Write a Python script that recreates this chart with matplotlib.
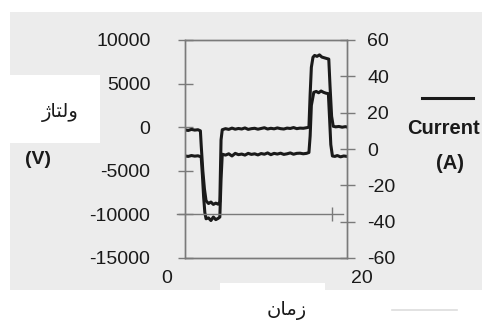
import matplotlib
matplotlib.use("Agg")
import matplotlib.pyplot as plt
import matplotlib.transforms as mtransforms
from matplotlib.patches import Rectangle
from matplotlib.lines import Line2D

# Voltage trace (left axis, V)
t_volt = [0.0, 0.4, 0.8, 1.2, 1.6, 2.0, 2.15, 2.3, 2.45, 2.6, 2.9, 3.2, 3.5, 3.8, 4.1, 4.3,
          4.45, 4.6, 5.0, 5.4, 5.8, 6.2, 6.6, 7.0, 7.4, 7.8, 8.2, 8.6, 9.0, 9.4, 9.8, 10.2,
          10.6, 11.0, 11.4, 11.8, 12.2, 12.6, 13.0, 13.4, 13.8, 14.2, 14.6, 15.0, 15.3, 15.45,
          15.6, 15.9, 16.2, 16.5, 16.8, 17.1, 17.4, 17.7, 17.85, 18.0, 18.2, 18.5, 18.8, 19.2,
          19.6, 20.0]
volt = [-3300, -3350, -3250, -3320, -3280, -3400, -5500, -8000, -9800, -10500, -10400, -10700,
        -10300, -10600, -10450, -10300, -6000, -3100, -3200, -3050, -3300, -3000, -3150, -3080,
        -3200, -3000, -3120, -3050, -3180, -3020, -3100, -2950, -3150, -3000, -3080, -2980,
        -3120, -3050, -2950, -3100, -3000, -2980, -3050, -3000, -2900, -1000, 2500, 4000,
        4100, 3950, 4150, 4000, 3900, 3850, 1000, -2000, -3300, -3350, -3250, -3400, -3300,
        -3350]

# Current trace (right axis, A)
t_curr = [0.0, 0.4, 0.8, 1.2, 1.6, 1.9, 2.0, 2.2, 2.4, 2.6, 2.9, 3.2, 3.5, 3.8, 4.1, 4.3,
          4.45, 4.6, 5.0, 5.4, 5.8, 6.2, 6.6, 7.0, 7.4, 7.8, 8.2, 8.6, 9.0, 9.4, 9.8, 10.2,
          10.6, 11.0, 11.4, 11.8, 12.2, 12.6, 13.0, 13.4, 13.8, 14.2, 14.6, 15.0, 15.3, 15.45,
          15.6, 15.8, 16.0, 16.3, 16.6, 16.9, 17.2, 17.5, 17.75, 17.9, 18.1, 18.3, 18.6, 19.0,
          19.4, 19.8, 20.0]
curr = [10.5, 10.2, 10.8, 10.4, 10.6, 10.0, 2.0, -12.0, -22.0, -28.5, -30.0, -29.2, -30.5,
        -29.8, -30.4, -29.0, 5.0, 10.6, 11.2, 10.8, 11.5, 10.9, 11.3, 11.0, 11.6, 10.8, 11.2,
        11.4, 10.9, 11.3, 11.7, 11.0, 11.4, 11.1, 11.6, 11.2, 11.0, 11.5, 11.3, 11.8, 11.2,
        11.5, 11.4, 11.7, 12.0, 30.0, 45.0, 50.5, 51.5, 51.0, 51.8, 50.6, 50.2, 49.8, 49.5,
        35.0, 18.0, 12.5, 12.2, 12.4, 12.0, 12.3, 12.1]

volt_ticks = [-15000, -10000, -5000, 0, 5000, 10000]
curr_ticks = [-60, -40, -20, 0, 20, 40, 60]
time_ticks = [0, 20]

# reference line and stray mark near the bottom of the box
ref_level = -10000
mark_t = [18.1]
mark_v = [-10000]

W, H, DPI = 482, 323, 100
GRAY = "#ececec"
SPINE = "#7a7a7a"
INK = "#1a1a1a"

# Persian labels in visual (left to right) order with shaped glyphs
VOLT_LABEL = "\u0698\uFE8E\uFE98\uFEDF\u0648"   # ولتاژ
TIME_LABEL = "\u0646\uFE8E\uFEE3\u0632"         # زمان


def fx(px):
    return px / W


def fy(py):
    return 1 - py / H


def draw_background(fig):
    fig.patch.set_facecolor("white")
    fig.add_artist(Rectangle((fx(10), fy(290)), fx(472), 278 / H, transform=fig.transFigure,
                             facecolor=GRAY, edgecolor="none", zorder=-10))
    # white patches pasted over the scan
    fig.add_artist(Rectangle((0, fy(143)), fx(100), 68 / H, transform=fig.transFigure,
                             facecolor="white", edgecolor="none", zorder=-9))
    fig.add_artist(Rectangle((fx(220), 0), fx(105), 40 / H, transform=fig.transFigure,
                             facecolor="white", edgecolor="none", zorder=-9))
    fig.add_artist(Line2D([fx(392), fx(457)], [fy(310), fy(310)], transform=fig.transFigure,
                          color="#dddddd", lw=1.2, zorder=-9))


def main():
    plt.rcParams["font.family"] = ["Liberation Sans", "DejaVu Sans"]
    plt.rcParams["axes.unicode_minus"] = False
    fig = plt.figure(figsize=(W / DPI, H / DPI), dpi=DPI)
    draw_background(fig)

    ax = fig.add_axes([fx(185), fy(258), fx(162), 218 / H])
    ax.patch.set_visible(False)
    ax2 = ax.twinx()

    ax.plot(t_volt, volt, color=INK, lw=2.2, solid_joinstyle="round")
    ax2.plot(t_curr, curr, color=INK, lw=2.2, solid_joinstyle="round")

    ax.axhline(ref_level, xmin=-0.05, xmax=0.975, color=SPINE, lw=1.0, clip_on=False)
    ax.plot(mark_t, mark_v, ls="none", marker="|", ms=10, mew=1.0, color=SPINE)

    ax.set_xlim(0, 20)
    ax.set_ylim(-15000, 10000)
    ax2.set_ylim(-60, 60)
    ax.set_xticks(time_ticks)
    ax.set_yticks(volt_ticks)
    ax2.set_yticks(curr_ticks)

    for a in (ax, ax2):
        for sp in a.spines.values():
            sp.set_color(SPINE)
            sp.set_linewidth(1.0)

    ax.tick_params(axis="y", direction="inout", length=10.8, width=1.0, color=SPINE,
                   labelsize=14, labelcolor=INK, pad=19.5)
    ax2.tick_params(axis="y", direction="inout", length=10.8, width=1.0, color=SPINE,
                    labelsize=14, labelcolor=INK, pad=9)
    ax.tick_params(axis="x", length=0, labelsize=14, labelcolor=INK, pad=8.5)

    # x tick labels sit off the box corners
    offsets = [-18, 15]
    for lab, dx in zip(ax.get_xticklabels(), offsets):
        lab.set_transform(lab.get_transform()
                          + mtransforms.ScaledTranslation(dx / DPI, 0, fig.dpi_scale_trans))

    # axis titles and the little legend on the right
    fig.text(fx(60), fy(112), VOLT_LABEL, family="DejaVu Sans", fontsize=14,
             color=INK, ha="center", va="center")
    fig.text(fx(38), fy(160), "(V)", fontsize=14, fontweight="bold", color=INK,
             ha="center", va="center")
    fig.text(fx(287), fy(311), TIME_LABEL, family="DejaVu Sans", fontsize=14,
             color=INK, ha="center", va="center")
    fig.add_artist(Line2D([fx(422), fx(473)], [fy(98), fy(98)], transform=fig.transFigure,
                          color=INK, lw=2.2))
    fig.text(fx(443), fy(128), "Current", fontsize=14.5, fontweight="bold", color=INK,
             ha="center", va="center")
    fig.text(fx(450), fy(163), "(A)", fontsize=14.5, fontweight="bold", color=INK,
             ha="center", va="center")

    fig.savefig("out.png", dpi=DPI)


if __name__ == "__main__":
    main()
